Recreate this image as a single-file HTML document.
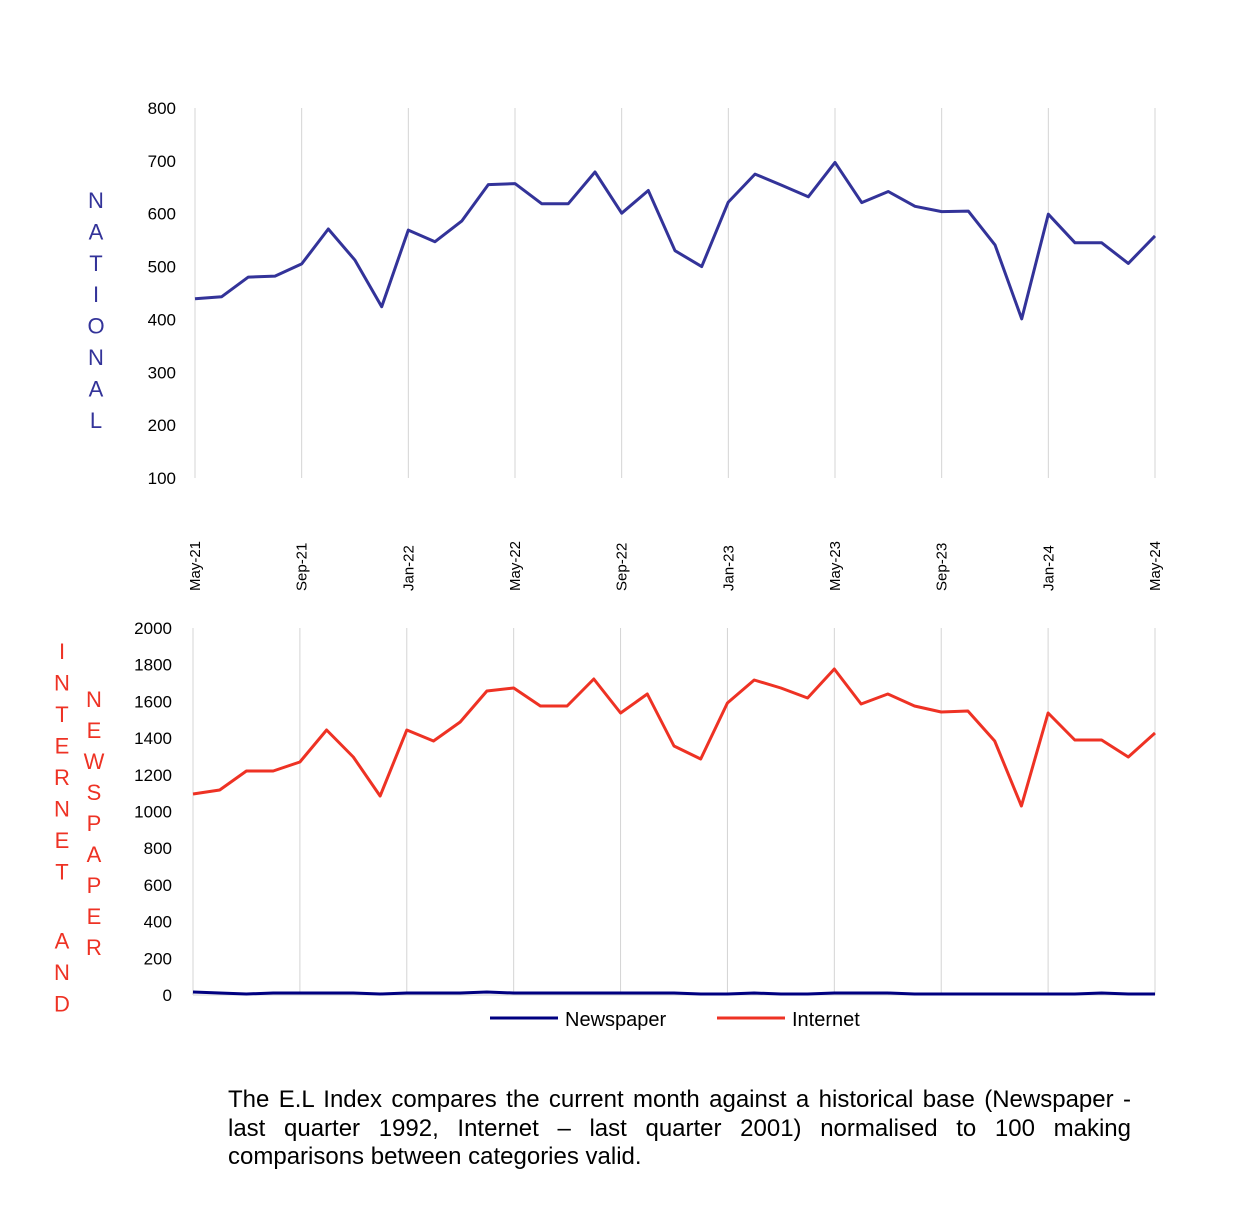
<!DOCTYPE html>
<html><head><meta charset="utf-8">
<style>
html,body{margin:0;padding:0;background:#fff;}
svg{display:block;font-family:"Liberation Sans",Arial,sans-serif;}
.foot{position:absolute;left:228px;top:1086px;width:903px;font-family:"Liberation Sans",Arial,sans-serif;font-size:24px;line-height:28.5px;color:#000;}
.foot .j{text-align:justify;text-align-last:justify;white-space:nowrap;}
</style></head>
<body>
<div style="position:relative;width:1234px;height:1230px;overflow:hidden">
<svg id="s" width="1234" height="1230" xmlns="http://www.w3.org/2000/svg"></svg>
<div class="foot"><div class="j">The E.L Index compares the current month against a historical base (Newspaper -</div><div class="j">last quarter 1992, Internet – last quarter 2001) normalised to 100 making</div><div>comparisons between categories valid.</div></div>
</div>
<script>
var s=document.getElementById('s'),h='';
var x0=195,dx=(1155-195)/36;
var lab=['May-21','Sep-21','Jan-22','May-22','Sep-22','Jan-23','May-23','Sep-23','Jan-24','May-24'];
for(var i=0;i<=9;i++){var x=x0+i*4*dx;h+='<line x1="'+x+'" y1="108" x2="'+x+'" y2="478" stroke="#d4d4d4" stroke-width="1"/>';
h+='<text transform="translate('+(x+5)+',591) rotate(-90)" font-size="15" fill="#000">'+lab[i]+'</text>';}
for(var v=100;v<=800;v+=100){var y=478-(v-100)*370/700;h+='<text x="176" y="'+(y+6)+'" font-size="17" text-anchor="end" fill="#000">'+v+'</text>';}
var nat=[439,443,480,482,505,571,512,424,569,547,586,655,657,619,619,679,601,644,530,500,622,675,654,632,697,621,642,614,604,605,541,401,599,545,545,506,558];
var p=nat.map(function(v,i){return (x0+i*dx).toFixed(1)+','+(478-(v-100)*370/700).toFixed(1)}).join(' ');
h+='<polyline points="'+p+'" fill="none" stroke="#333399" stroke-width="3" stroke-linejoin="round"/>';
'NATIONAL'.split('').forEach(function(c,i){h+='<text x="96" y="'+(208+i*31.4)+'" font-size="22" text-anchor="middle" fill="#333399">'+c+'</text>';});
var bx0=193,bdx=(1155-193)/36;
for(var i=0;i<=9;i++){var x=bx0+i*4*bdx;h+='<line x1="'+x+'" y1="628" x2="'+x+'" y2="995" stroke="#d4d4d4" stroke-width="1"/>';}
for(var v=0;v<=2000;v+=200){var y=995-v*367/2000;h+='<text x="172" y="'+(y+6)+'" font-size="17" text-anchor="end" fill="#000">'+v+'</text>';}
h+='<line x1="193" y1="995" x2="1155" y2="995" stroke="#d4d4d4"/>';
var inet=[794,790,771,771,762,730,757,796,730,741,722,691,688,706,706,679,713,694,746,759,703,680,688,698,669,704,694,706,712,711,741,806,713,740,740,757,733];
p=inet.map(function(y,i){return (bx0+i*bdx).toFixed(1)+','+y}).join(' ');
h+='<polyline points="'+p+'" fill="none" stroke="#ee3224" stroke-width="3" stroke-linejoin="round"/>';
var np=[992,993,994,993,993,993,993,994,993,993,993,992,993,993,993,993,993,993,993,994,994,993,994,994,993,993,993,994,994,994,994,994,994,994,993,994,994];
p=np.map(function(y,i){return (bx0+i*bdx).toFixed(1)+','+y}).join(' ');
h+='<polyline points="'+p+'" fill="none" stroke="#000080" stroke-width="3"/>';
'INTERNET AND'.split('').forEach(function(c,i){h+='<text x="62" y="'+(659+i*31.5+(i>8?6:0))+'" font-size="22" text-anchor="middle" fill="#ee3224">'+c+'</text>';});
'NEWSPAPER'.split('').forEach(function(c,i){h+='<text x="94" y="'+(707+i*31)+'" font-size="22" text-anchor="middle" fill="#ee3224">'+c+'</text>';});
h+='<line x1="490" y1="1018" x2="558" y2="1018" stroke="#000080" stroke-width="3"/><text x="565" y="1026" font-size="20">Newspaper</text>';
h+='<line x1="717" y1="1018" x2="785" y2="1018" stroke="#ee3224" stroke-width="3"/><text x="792" y="1026" font-size="20">Internet</text>';
s.innerHTML=h;
</script>
</body></html>
